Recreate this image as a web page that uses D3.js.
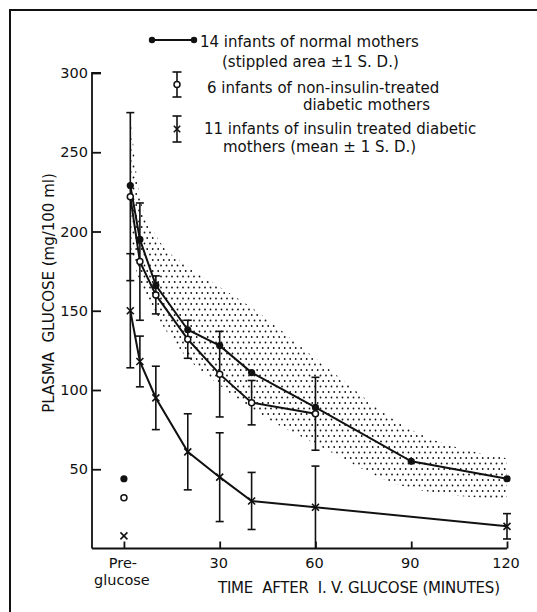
<!DOCTYPE html>
<html lang="en">
  <head>
    <meta charset="UTF-8">
    <title>Plasma glucose after I.V. glucose</title>
    <script src="https://d3js.org/d3.v7.min.js"></script>
    <style>
      body {
        margin: 0;
        padding: 0;
        background-color: #fff;
      }
      svg text {
        font-family: 'DejaVu Sans', sans-serif;
        fill: #111;
        white-space: pre;
      }
    </style>
  </head>
  <body>
    <script>
      // values (mg/100 ml)
      const times = [2, 5, 10, 20, 30, 40, 60, 90, 120];
      const normalMean = [229, 195, 166, 138, 128, 111, 89, 55, 44];
      const normalUpper = [275, 222, 198, 178, 165, 152, 120, 75, 57];
      const normalLower = [190, 168, 148, 120, 103, 88, 66, 38, 31];

      const nonInsTimes = [2, 5, 10, 20, 30, 40, 60];
      const nonInsMean = [222, 181, 160, 132, 110, 92, 85];
      const nonInsSD = [53, 37, 12, 12, 27, 14, 23];

      const insTimes = [2, 5, 10, 20, 30, 40, 60, 120];
      const insMean = [150, 118, 95, 61, 45, 30, 26, 14];
      const insSD = [36, 16, 20, 24, 28, 18, 26, 8];

      const preNormal = 44, preNonIns = 32, preIns = 8;

      const xTicks = [0, 30, 60, 90, 120];
      const xTickLabels = ["Pre-|glucose", "30", "60", "90", "120"];
      const yTicks = [50, 100, 150, 200, 250, 300];

      const W = 537, H = 612;
      const svg = d3.select("body").append("svg").attr("width", W).attr("height", H);

      const pat = svg.append("defs").append("pattern").attr("id", "stipple")
        .attr("patternUnits", "userSpaceOnUse").attr("width", 11).attr("height", 11);
      [[1.5, 1.5], [7, 1.5], [4.2, 7], [9.7, 7]].forEach(p =>
        pat.append("circle").attr("cx", p[0]).attr("cy", p[1]).attr("r", 0.9).attr("fill", "#111"));

      // frame (top and left only)
      svg.append("line").attr("x1", 9).attr("x2", W).attr("y1", 10).attr("y2", 10).attr("stroke", "#111").attr("stroke-width", 2);
      svg.append("line").attr("x1", 10).attr("x2", 10).attr("y1", 9).attr("y2", H).attr("stroke", "#111").attr("stroke-width", 2);

      const x = d3.scaleLinear().domain([-10, 120]).range([92, 507]);
      const y = d3.scaleLinear().domain([0, 300]).range([548.5, 73]);

      // stippled band (normal mothers ± 1 SD)
      const band = times.map((t, i) => ({t: t, lo: normalLower[i], hi: normalUpper[i]}));
      svg.append("path").datum(band)
        .attr("d", d3.area().curve(d3.curveMonotoneX).x(d => x(d.t)).y0(d => y(d.lo)).y1(d => y(d.hi)))
        .attr("fill", "url(#stipple)");

      // axes
      const gy = svg.append("g").attr("transform", `translate(${x(-10)},0)`)
        .call(d3.axisRight(y).tickValues(yTicks).tickSize(9).tickFormat(""));
      gy.select(".domain").attr("d", `M9,${y(300)}H0V${y(0)}`);
      gy.selectAll("line, path").attr("stroke", "#111").attr("stroke-width", 1.8);
      svg.append("g").selectAll("text").data(yTicks).join("text")
        .attr("x", 88).attr("y", d => y(d)).attr("dy", "0.36em").attr("text-anchor", "end")
        .style("font-size", "14.5px").text(d => d);

      const gx = svg.append("g").attr("transform", `translate(0,${y(0)})`)
        .call(d3.axisTop(x).tickValues(xTicks).tickSize(7).tickFormat(""));
      gx.select(".domain").attr("d", `M${x(-10)},0H${x(120)}`);
      gx.selectAll("line, path").attr("stroke", "#111").attr("stroke-width", 1.8);
      xTicks.forEach((t, i) => {
        xTickLabels[i].split("|").forEach((s, j) => {
          svg.append("text").attr("x", x(t) - (j ? 2 : 1)).attr("y", 568 + j * 17)
            .attr("text-anchor", "middle").style("font-size", "14.5px").text(s);
        });
      });

      svg.append("text").attr("x", 218).attr("y", 593).style("font-size", "15px")
        .attr("textLength", 282).text("TIME  AFTER  I. V. GLUCOSE (MINUTES)");
      svg.append("text").attr("transform", "rotate(-90)").attr("x", -293).attr("y", 54)
        .attr("text-anchor", "middle").style("font-size", "15px")
        .text("PLASMA  GLUCOSE (mg/100 ml)");

      const line = d3.line().x(d => x(d[0])).y(d => y(d[1]));
      const ink = "#111";

      function errorBars(ts, means, sds) {
        const g = svg.append("g").attr("stroke", ink).attr("stroke-width", 1.6);
        ts.forEach((t, i) => {
          const top = Math.min(300, means[i] + sds[i]), bot = Math.max(0, means[i] - sds[i]);
          g.append("line").attr("x1", x(t)).attr("x2", x(t)).attr("y1", y(top)).attr("y2", y(bot));
          g.append("line").attr("x1", x(t) - 4).attr("x2", x(t) + 4).attr("y1", y(top)).attr("y2", y(top));
          if (bot > 0) g.append("line").attr("x1", x(t) - 4).attr("x2", x(t) + 4).attr("y1", y(bot)).attr("y2", y(bot));
        });
      }
      errorBars(nonInsTimes, nonInsMean, nonInsSD);
      errorBars(insTimes, insMean, insSD);

      function cross(cx, cy, s) {
        svg.append("path").attr("d", `M${cx - s},${cy - s}L${cx + s},${cy + s}M${cx - s},${cy + s}L${cx + s},${cy - s}`)
          .attr("stroke", ink).attr("stroke-width", 1.6).attr("fill", "none");
      }

      // series lines
      svg.append("path").datum(times.map((t, i) => [t, normalMean[i]])).attr("d", line)
        .attr("fill", "none").attr("stroke", ink).attr("stroke-width", 2);
      svg.append("path").datum(nonInsTimes.map((t, i) => [t, nonInsMean[i]])).attr("d", line)
        .attr("fill", "none").attr("stroke", ink).attr("stroke-width", 2);
      svg.append("path").datum(insTimes.map((t, i) => [t, insMean[i]])).attr("d", line)
        .attr("fill", "none").attr("stroke", ink).attr("stroke-width", 2);

      // markers
      svg.selectAll(".nrm").data(times.map((t, i) => [t, normalMean[i]]).concat([[0, preNormal]])).join("circle")
        .attr("cx", d => x(d[0])).attr("cy", d => y(d[1])).attr("r", 3.6).attr("fill", ink);
      svg.selectAll(".non").data(nonInsTimes.map((t, i) => [t, nonInsMean[i]]).concat([[0, preNonIns]])).join("circle")
        .attr("cx", d => x(d[0])).attr("cy", d => y(d[1])).attr("r", 3).attr("fill", "#fff")
        .attr("stroke", ink).attr("stroke-width", 1.5);
      insTimes.forEach((t, i) => cross(x(t), y(insMean[i]), 3.5));
      cross(x(0), y(preIns), 3.5);

      // legend
      svg.append("line").attr("x1", 152).attr("x2", 194).attr("y1", 40).attr("y2", 40).attr("stroke", ink).attr("stroke-width", 2);
      [152, 194].forEach(cx => svg.append("circle").attr("cx", cx).attr("cy", 40).attr("r", 3.2).attr("fill", ink));
      [[72, 97, "o"], [116, 142, "x"]].forEach(([t, b, k]) => {
        const g = svg.append("g").attr("stroke", ink).attr("stroke-width", 1.6);
        g.append("line").attr("x1", 177).attr("x2", 177).attr("y1", t).attr("y2", b);
        g.append("line").attr("x1", 172.5).attr("x2", 181.5).attr("y1", t).attr("y2", t);
        g.append("line").attr("x1", 172.5).attr("x2", 181.5).attr("y1", b).attr("y2", b);
        if (k === "o") svg.append("circle").attr("cx", 177).attr("cy", (t + b) / 2).attr("r", 3)
          .attr("fill", "#fff").attr("stroke", ink).attr("stroke-width", 1.5);
        else cross(177, (t + b) / 2, 3.2);
      });
      const legendText = [
        [200, 47, "start", "14 infants of normal mothers"],
        [222, 67, "start", "(stippled area \u00b11 S. D.)"],
        [207, 93, "start", "6 infants of non-insulin-treated"],
        [430, 110, "end", "diabetic mothers"],
        [204, 134, "start", "11 infants of insulin treated diabetic"],
        [223, 152, "start", "mothers (mean \u00b1 1 S. D.)"]
      ];
      legendText.forEach(d => svg.append("text").attr("x", d[0]).attr("y", d[1])
        .attr("text-anchor", d[2]).style("font-size", "15px").text(d[3]));
    </script>
  </body>
</html>
